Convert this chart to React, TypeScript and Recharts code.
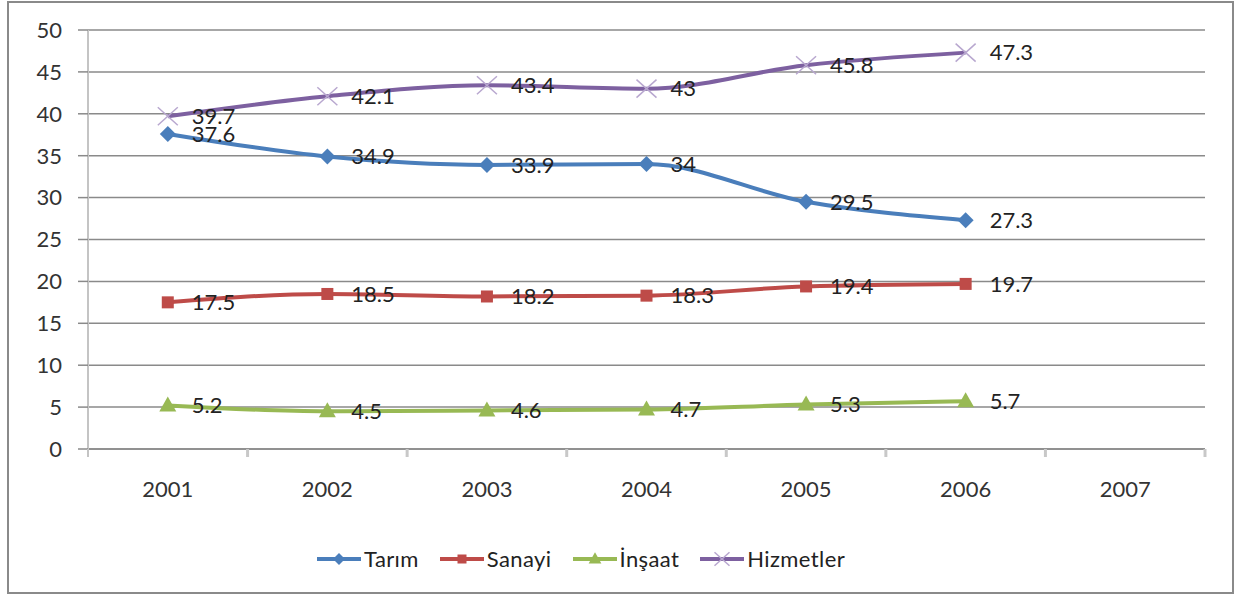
import { LineChart, Line, XAxis, YAxis, CartesianGrid, Legend, LabelList } from 'recharts';

const years = ['2001', '2002', '2003', '2004', '2005', '2006', '2007'];
const tarim = [37.6, 34.9, 33.9, 34, 29.5, 27.3];
const sanayi = [17.5, 18.5, 18.2, 18.3, 19.4, 19.7];
const insaat = [5.2, 4.5, 4.6, 4.7, 5.3, 5.7];
const hizmetler = [39.7, 42.1, 43.4, 43, 45.8, 47.3];
const yTicks = [0, 5, 10, 15, 20, 25, 30, 35, 40, 45, 50];

const data = years.map((year, i) => ({
  year,
  tarim: tarim[i],
  sanayi: sanayi[i],
  insaat: insaat[i],
  hizmetler: hizmetler[i],
}));

type Shape = 'diamond' | 'square' | 'triangle' | 'cross';

const series: { key: string; name: string; color: string; shape: Shape }[] = [
  { key: 'tarim', name: 'Tarım', color: '#4a7ebb', shape: 'diamond' },
  { key: 'sanayi', name: 'Sanayi', color: '#be4b48', shape: 'square' },
  { key: 'insaat', name: 'İnşaat', color: '#98b954', shape: 'triangle' },
  { key: 'hizmetler', name: 'Hizmetler', color: '#7d60a0', shape: 'cross' },
];

const W = 1239;
const H = 596;
const margin = { top: 30, right: 34, left: 28, bottom: 0 };
const Y_AXIS_W = 60;
const PLOT_W = W - margin.left - Y_AXIS_W - margin.right;
const HALF = PLOT_W / years.length / 2;
const FONT = 'Lato, "Open Sans", sans-serif';

function marker(shape: Shape, cx: number, cy: number, color: string, s = 1, key?: string | number) {
  if (shape === 'diamond') {
    const r = 8 * s;
    return <polygon key={key} points={`${cx},${cy - r} ${cx + r},${cy} ${cx},${cy + r} ${cx - r},${cy}`} fill={color} />;
  }
  if (shape === 'square') {
    const r = 6 * s;
    return <rect key={key} x={cx - r} y={cy - r} width={2 * r} height={2 * r} fill={color} />;
  }
  if (shape === 'triangle') {
    return (
      <polygon
        key={key}
        points={`${cx},${cy - 9 * s} ${cx + 8.5 * s},${cy + 6 * s} ${cx - 8.5 * s},${cy + 6 * s}`}
        fill={color}
      />
    );
  }
  const rx = 10 * s;
  const ry = 9 * s;
  return (
    <g key={key}>
      <line x1={cx - rx} y1={cy - ry} x2={cx + rx} y2={cy + ry} stroke="#b8a7cf" strokeWidth={1.5} />
      <line x1={cx - rx} y1={cy + ry} x2={cx + rx} y2={cy - ry} stroke="#b8a7cf" strokeWidth={1.5} />
    </g>
  );
}

function YearTick(props: any) {
  const { x, y, payload, index } = props;
  return (
    <g>
      {index === 0 && <line x1={x - HALF} x2={x - HALF} y1={y} y2={y + 8} stroke="#c4c4c4" strokeWidth={2} />}
      <line x1={x + HALF} x2={x + HALF} y1={y} y2={y + 8} stroke="#c8c8c8" strokeWidth={3} />
      <text x={x} y={y + 48} textAnchor="middle" fontSize={22} fill="#333" fontFamily={FONT}>
        {payload.value}
      </text>
    </g>
  );
}

function LegendContent() {
  return (
    <div style={{ display: 'flex', alignItems: 'center', paddingLeft: 317, fontFamily: FONT, fontSize: 22, color: '#222' }}>
      {series.map((s) => (
        <div key={s.key} style={{ display: 'flex', alignItems: 'center', marginRight: 21 }}>
          <svg width={44} height={24}>
            <line x1={0} x2={44} y1={12} y2={12} stroke={s.color} strokeWidth={4} />
            {marker(s.shape, 22, 12, s.color, 0.75)}
          </svg>
          <span style={{ marginLeft: 3, letterSpacing: 0.4 }}>{s.name}</span>
        </div>
      ))}
    </div>
  );
}

export default function App() {
  return (
    <div style={{ position: 'absolute', left: 0, top: 0, width: W, height: H, background: '#fff', fontFamily: FONT }}>
      <div
        style={{
          position: 'absolute',
          left: 7,
          top: 1,
          width: 1227,
          height: 593,
          border: '2px solid #8a8a8a',
          boxSizing: 'border-box',
        }}
      />
      <div style={{ position: 'absolute', left: 0, top: 0 }}>
        <LineChart width={W} height={H} data={data} margin={margin}>
          <CartesianGrid vertical={false} stroke="#8a8a8a" strokeWidth={1.5} />
          <XAxis
            dataKey="year"
            height={147}
            padding={{ left: HALF, right: HALF }}
            axisLine={{ stroke: '#8a8a8a', strokeWidth: 1.5 }}
            tickLine={false}
            tickSize={0}
            tickMargin={0}
            interval={0}
            tick={<YearTick />}
          />
          <YAxis
            width={Y_AXIS_W}
            domain={[0, 50]}
            ticks={yTicks}
            interval={0}
            axisLine={{ stroke: '#c4c4c4', strokeWidth: 2 }}
            tickLine={{ stroke: '#8a8a8a', strokeWidth: 1.5 }}
            tickSize={10}
            tickMargin={16}
            tick={{ fontSize: 22, fill: '#333', fontFamily: FONT }}
          />
          <Legend
            verticalAlign="middle"
            align="center"
            wrapperStyle={{ top: 545, left: 0, width: W }}
            content={<LegendContent />}
          />
          {series.map((s) => (
            <Line
              key={s.key}
              type="monotone"
              dataKey={s.key}
              name={s.name}
              stroke={s.color}
              strokeWidth={4}
              isAnimationActive={false}
              dot={(p: any) =>
                p.value == null || p.cy == null || Number.isNaN(p.cy) ? (
                  <g key={p.index} />
                ) : (
                  marker(s.shape, p.cx, p.cy, s.color, 1, p.index)
                )
              }
              activeDot={false}
            >
              <LabelList dataKey={s.key} position="right" offset={24} fontSize={22} fill="#222" fontFamily={FONT} />
            </Line>
          ))}
        </LineChart>
      </div>
    </div>
  );
}
